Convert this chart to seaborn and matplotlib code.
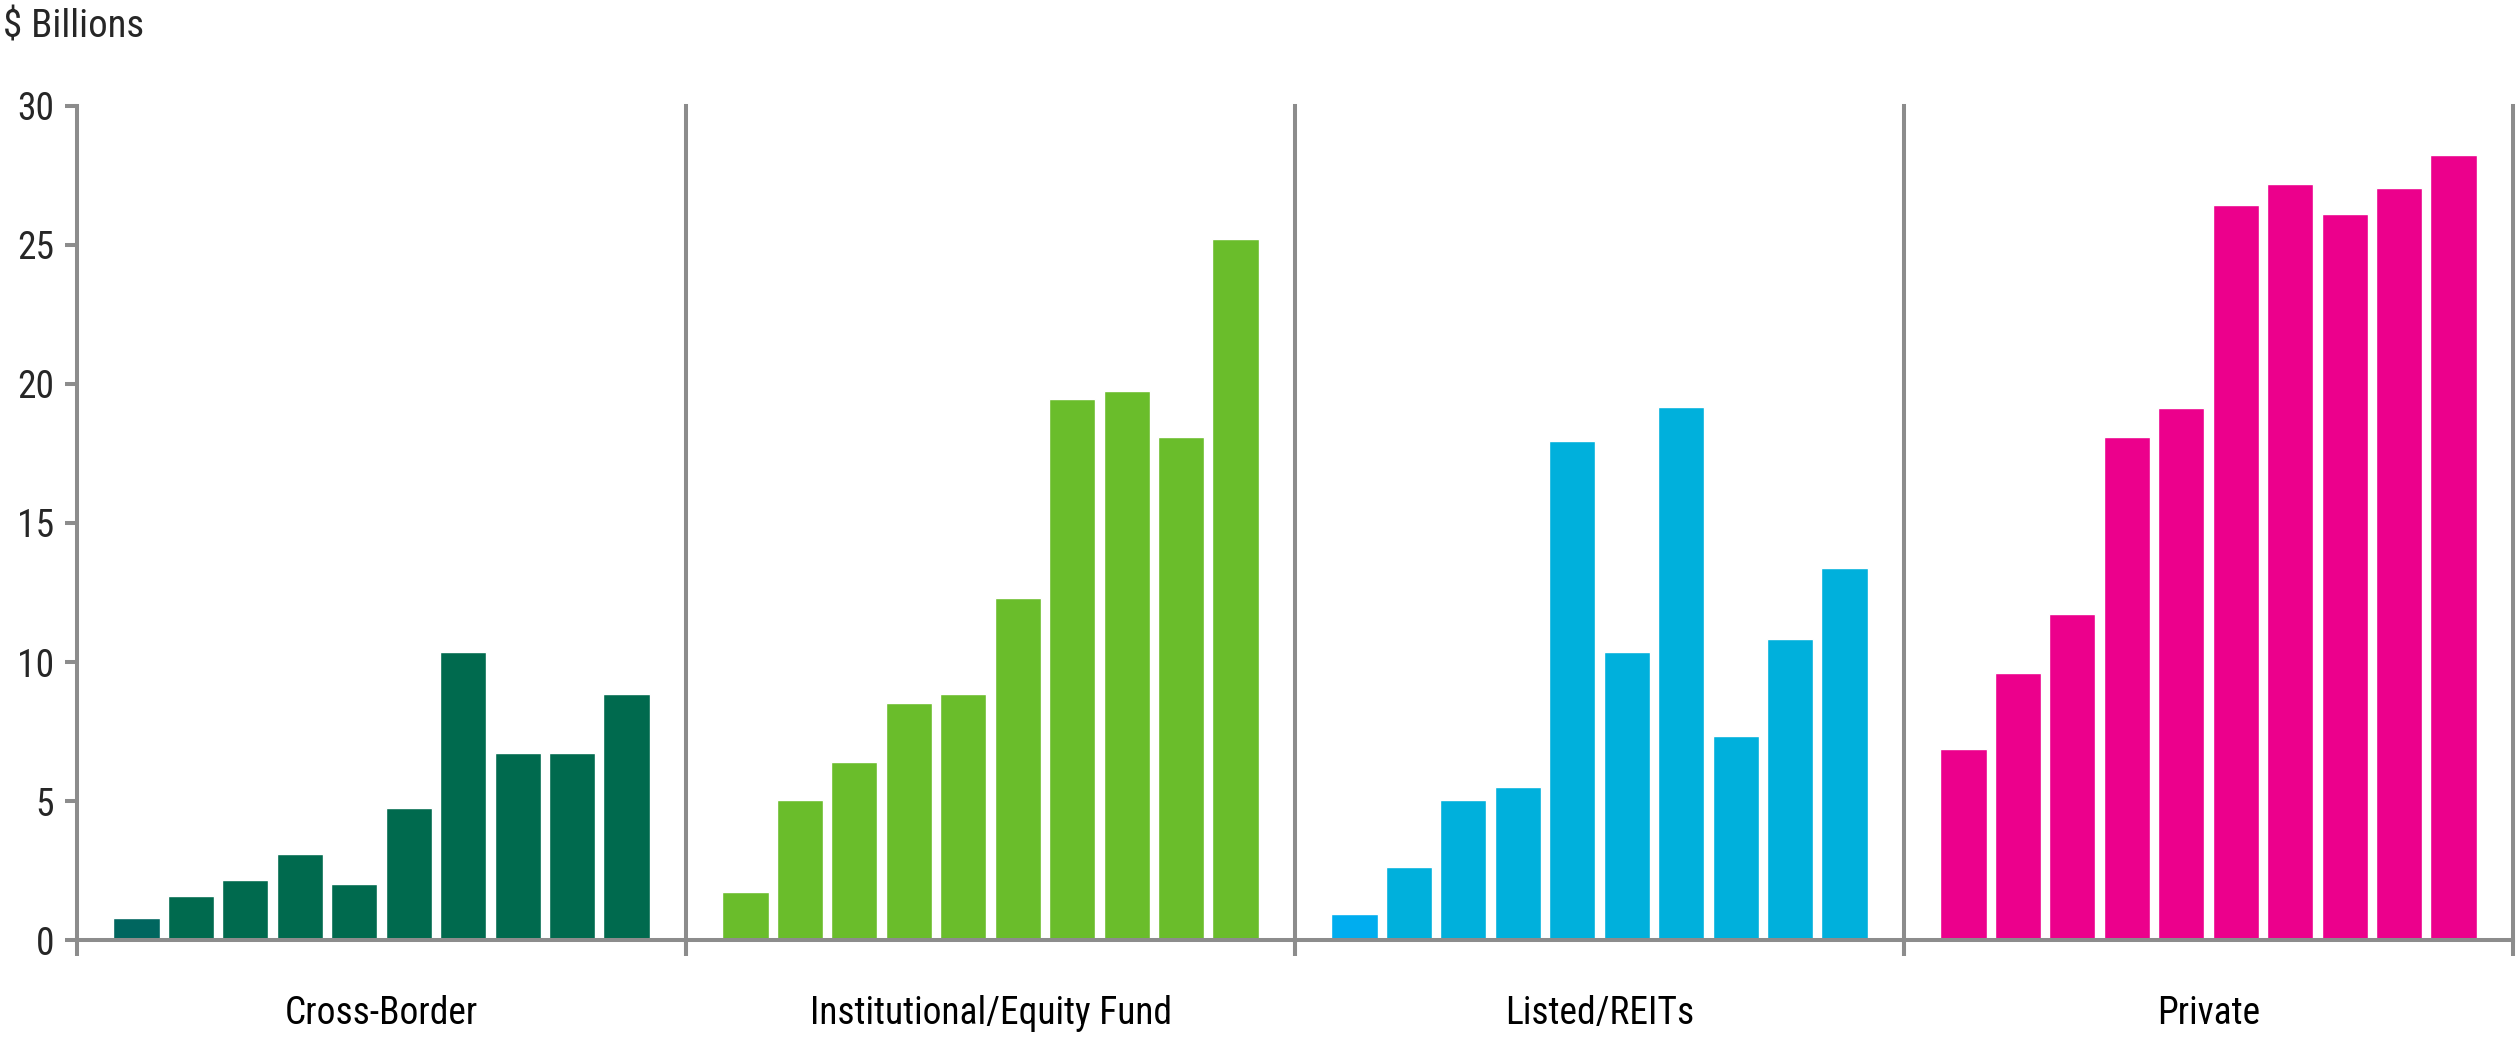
import matplotlib
matplotlib.use("Agg")

import matplotlib.pyplot as plt
import pandas as pd
import seaborn as sns

# ------------------------------------------------------------------
# Data ($ Billions)
# ------------------------------------------------------------------

groups = ["Cross-Border", "Institutional/Equity Fund", "Listed/REITs", "Private"]

cross_border = [0.80, 1.57, 2.16, 3.08, 2.01, 4.74, 10.36, 6.72, 6.72, 8.84]
institutional = [1.71, 5.04, 6.40, 8.53, 8.84, 12.31, 19.45, 19.75, 18.08, 25.22]
listed_reits = [0.95, 2.63, 5.04, 5.49, 17.94, 10.35, 19.16, 7.33, 10.83, 13.38]
private = [6.87, 9.60, 11.71, 18.09, 19.15, 26.43, 27.18, 26.13, 27.04, 28.25]

series = [cross_border, institutional, listed_reits, private]

y_ticks = [0, 5, 10, 15, 20, 25, 30]

# colour of the first bar differs slightly in two of the groups
group_colors = [
    ["#00665F"] + ["#006A4E"] * 9,
    ["#6ABD2B"] * 10,
    ["#00ADEF"] + ["#00B0DC"] * 9,
    ["#EC008C"] * 10,
]

SPINE = "#8C8C8C"
LW = 2.9
FONT = ["Roboto Condensed", "DejaVu Sans Condensed", "Roboto", "DejaVu Sans"]

# ------------------------------------------------------------------
# Figure
# ------------------------------------------------------------------

sns.set_theme(style="white")
plt.rcParams["font.family"] = FONT

fig, axes = plt.subplots(1, 4, figsize=(25.17, 10.38), dpi=100, sharey=True)
fig.subplots_adjust(left=0.0306, right=0.9984, bottom=0.0944, top=0.8979, wspace=0)

for i, ax in enumerate(axes):
    df = pd.DataFrame({
        "bar": [str(k) for k in range(len(series[i]))],
        "value": series[i],
    })

    sns.barplot(
        data=df,
        x="bar",
        y="value",
        hue="bar",
        palette=group_colors[i],
        legend=False,
        saturation=1,
        width=0.85,
        ax=ax,
    )

    ax.set_xlim(-1.09, len(series[i]) - 1 + 1.09)
    ax.set_ylim(0, 30)
    ax.set_xlabel("")
    ax.set_ylabel("")

    # spines
    ax.spines["top"].set_visible(False)
    ax.spines["right"].set_visible(i == len(axes) - 1)
    for side in ["left", "bottom", "right"]:
        ax.spines[side].set_color(SPINE)
        ax.spines[side].set_linewidth(LW)

    # x ticks only at group boundaries
    ax.set_xticks(list(ax.get_xlim()))
    ax.set_xticklabels(["", ""])
    ax.tick_params(
        axis="x",
        direction="out",
        length=11.5,
        width=LW,
        color=SPINE,
        bottom=True,
    )

    ax.text(
        0.5, -0.088, groups[i],
        transform=ax.transAxes,
        ha="center", va="center",
        fontsize=27, color="black",
    )

    if i == 0:
        ax.set_yticks(y_ticks)
        ax.tick_params(
            axis="y",
            direction="out",
            length=8.6,
            width=LW,
            color=SPINE,
            left=True,
            pad=8,
            labelsize=27,
        )
    else:
        ax.tick_params(axis="y", left=False, labelleft=False)

fig.text(0.0012, 1 - 27 / 1038, "$ Billions", ha="left", va="center", fontsize=28)

fig.savefig("out.png", dpi=100)
plt.close(fig)
